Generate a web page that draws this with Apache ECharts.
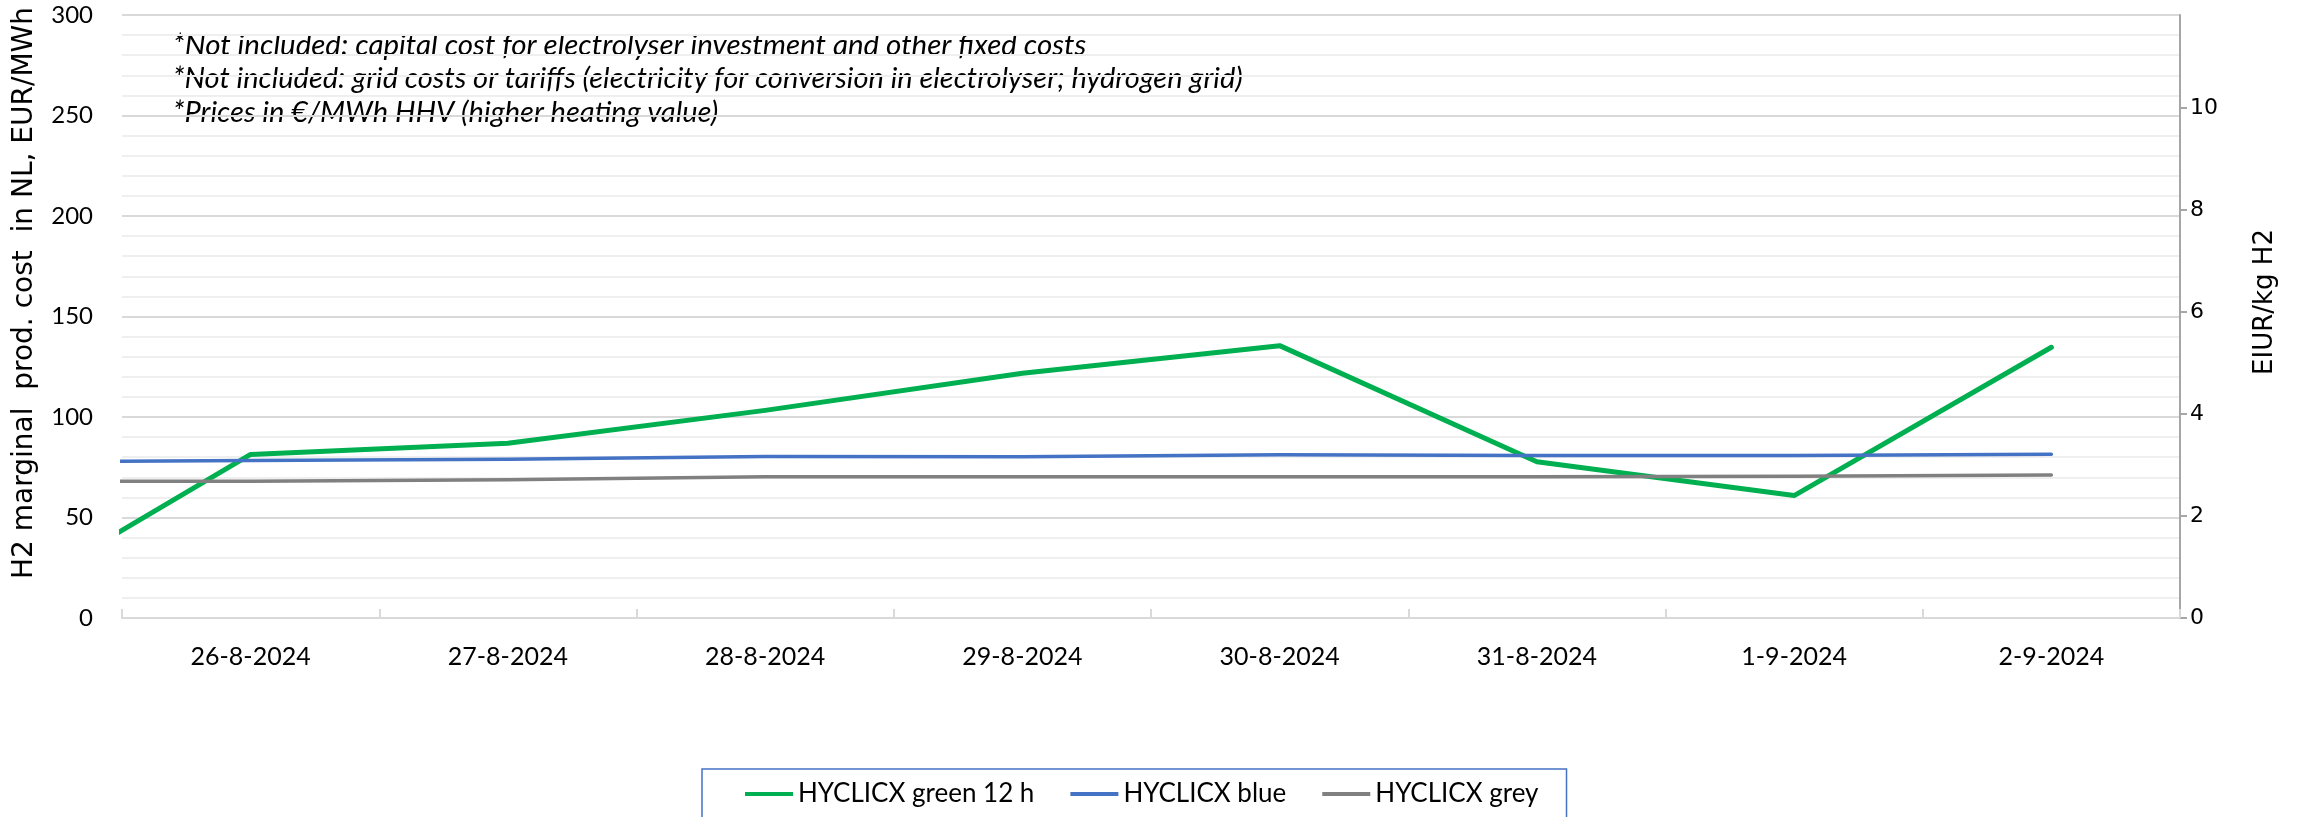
<!DOCTYPE html>
<html>
<head>
<meta charset="utf-8">
<script src="https://cdn.jsdelivr.net/npm/echarts@6/dist/echarts.min.js"></script>
<style>
html,body{margin:0;padding:0;background:#fff;}
#chart{width:2297px;height:817px;}
</style>
</head>
<body>
<div id="chart"></div>
<script>
// Dates; the first (25-8-2024) lies before the visible axis start and is only seen as a clipped line segment
const allDates = ['25-8-2024','26-8-2024','27-8-2024','28-8-2024','29-8-2024','30-8-2024','31-8-2024','1-9-2024','2-9-2024'];
const visibleDates = allDates.slice(1);
const greenValues = [5.8, 81.4, 86.9, 103.3, 121.8, 135.5, 77.7, 60.9, 134.7];
const blueValues  = [77.6, 78.4, 79.0, 80.4, 80.2, 81.2, 80.9, 80.9, 81.5];
const greyValues  = [68.0, 68.0, 68.8, 70.3, 70.3, 70.3, 70.3, 70.5, 71.2];
const seriesNames = ['HYCLICX green 12 h', 'HYCLICX blue', 'HYCLICX grey'];
const leftTicks = [0, 50, 100, 150, 200, 250, 300];
const rightTicks = [0, 2, 4, 6, 8, 10];
const rightMax = 11.82; // 300 EUR/MWh HHV expressed in EUR/kg H2
const notes = [
  '*Not included: capital cost for electrolyser investment and other fixed costs',
  '*Not included: grid costs or tariffs (electricity for conversion in electrolyser; hydrogen grid)',
  '*Prices in \u20AC/MWh HHV (higher heating value)'
];
const leftTitle = 'H2 marginal  prod. cost  in NL, EUR/MWh';
const rightTitle = 'EIUR/kg H2';

const toPoints = vals => vals.map((v, i) => [i - 1, v]);

const chart = echarts.init(document.getElementById('chart'), null, {renderer: 'canvas'});
const lineSeries = (name, vals, color, width) => ({
  name: name,
  type: 'line',
  xAxisIndex: 1,
  yAxisIndex: 0,
  data: toPoints(vals),
  symbol: 'none',
  showSymbol: false,
  clip: true,
  lineStyle: {color: color, width: width, cap: 'round', join: 'round'},
  itemStyle: {color: color},
  emphasis: {disabled: true},
  animation: false
});

chart.setOption({
  animation: false,
  backgroundColor: '#ffffff',
  grid: {left: 122, right: 117, top: 15, bottom: 199, containLabel: false},
  legend: {
    left: 702,
    top: 769,
    padding: [12, 28, 40, 43],
    borderColor: '#4472C4',
    borderWidth: 1.5,
    itemWidth: 48,
    itemHeight: 4,
    itemGap: 36,
    icon: 'rect',
    textStyle: {fontFamily: 'Lato', fontSize: 26, color: '#000', lineHeight: 26},
    data: seriesNames
  },
  xAxis: [
    {
      type: 'category',
      data: visibleDates,
      boundaryGap: true,
      position: 'bottom',
      axisLine: {show: true, lineStyle: {color: '#d9d9d9', width: 2}},
      axisTick: {show: true, inside: true, length: 9, lineStyle: {color: '#d9d9d9', width: 2}},
      axisLabel: {fontFamily: 'Lato', fontSize: 25, color: '#000', margin: 26},
      splitLine: {show: false}
    },
    {
      type: 'value',
      min: -0.5,
      max: 7.5,
      show: false,
      splitLine: {show: false}
    }
  ],
  yAxis: [
    {
      type: 'value',
      min: leftTicks[0],
      max: leftTicks[leftTicks.length - 1],
      interval: leftTicks[1] - leftTicks[0],
      axisLine: {show: false},
      axisTick: {show: false},
      axisLabel: {fontFamily: 'Lato', fontSize: 24, color: '#000', margin: 29},
      splitLine: {show: true, lineStyle: {color: '#d9d9d9', width: 2}},
      minorTick: {show: false, splitNumber: 5},
      minorSplitLine: {show: true, lineStyle: {color: '#efefef', width: 2}}
    },
    {
      type: 'value',
      min: rightTicks[0],
      max: rightMax,
      interval: rightTicks[1] - rightTicks[0],
      position: 'right',
      axisLine: {show: true, lineStyle: {color: '#a6a6a6', width: 2}},
      axisTick: {show: true, inside: false, length: 7, lineStyle: {color: '#a6a6a6', width: 2}},
      axisLabel: {fontFamily: 'DejaVu Sans', fontSize: 22, color: '#000', margin: 10, showMaxLabel: false},
      splitLine: {show: false}
    }
  ],
  graphic: [
    {type: 'text', x: 173, y: 45, silent: true,
     style: {text: notes[0], font: 'italic 29.5px Lato', fill: '#000', verticalAlign: 'middle'}},
    {type: 'text', x: 173, y: 79, silent: true,
     style: {text: notes[1], font: 'italic 29px Lato', fill: '#000', verticalAlign: 'middle'}},
    {type: 'text', x: 173, y: 113, silent: true,
     style: {text: notes[2], font: 'italic 29px Lato', fill: '#000', verticalAlign: 'middle'}},
    {type: 'text', x: 25, y: 293, rotation: Math.PI / 2, silent: true,
     style: {text: leftTitle, font: '28px "DejaVu Sans"', fill: '#000', align: 'center', verticalAlign: 'middle'}},
    {type: 'text', x: 2265, y: 302, rotation: Math.PI / 2, silent: true,
     style: {text: rightTitle, font: '26px "DejaVu Sans"', fill: '#000', align: 'center', verticalAlign: 'middle'}}
  ],
  series: [
    lineSeries(seriesNames[0], greenValues, '#00B050', 5),
    lineSeries(seriesNames[1], blueValues, '#4472C4', 3.5),
    lineSeries(seriesNames[2], greyValues, '#808080', 3.5)
  ]
});
</script>
</body>
</html>
